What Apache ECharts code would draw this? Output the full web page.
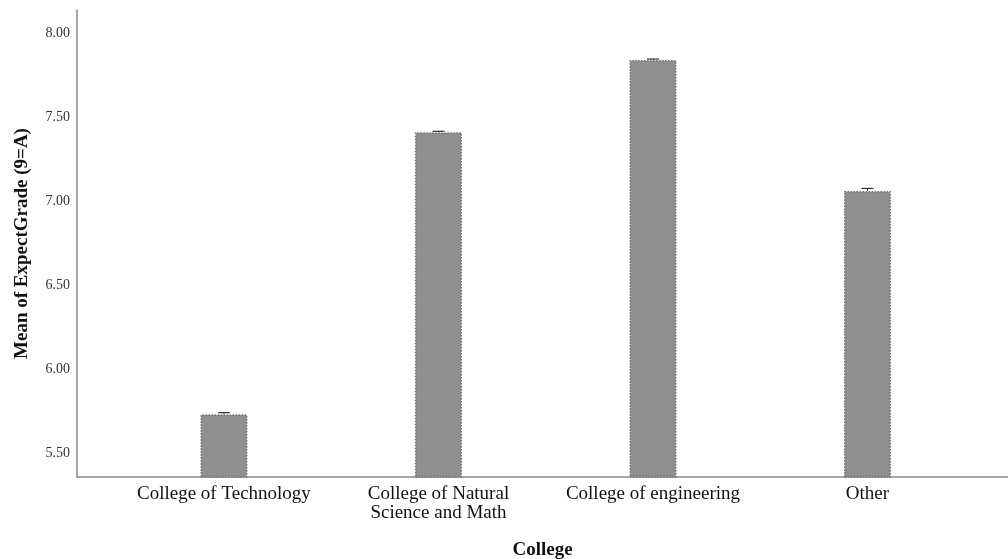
<!DOCTYPE html>
<html>
<head>
<meta charset="utf-8">
<script src="https://cdn.jsdelivr.net/npm/echarts@6/dist/echarts.min.js"></script>
<style>
  html, body { margin: 0; padding: 0; background: #fff; }
  #chart { width: 1008px; height: 559px; }
</style>
</head>
<body>
<div id="chart"></div>
<script>
const colleges = ["College of Technology", "College of Natural\nScience and Math", "College of engineering", "Other"];
const meanGrade = [5.73, 7.41, 7.84, 7.06];
// tiny error bar upper ends seen on top of each bar
const errUpper = [5.74, 7.415, 7.845, 7.075];
const yTicks = [5.5, 6.0, 6.5, 7.0, 7.5, 8.0];

const positions = colleges.map((c, i) => i + 1);
const barData = meanGrade.map((v, i) => [positions[i], v]);
const errData = meanGrade.map((v, i) => [positions[i], v, errUpper[i]]);

const serif = "Liberation Serif";
const chart = echarts.init(document.getElementById("chart"));
chart.setOption({
  animation: false,
  grid: { left: 77, right: 0, top: 10, bottom: 82, containLabel: false, outerBoundsMode: "none" },
  xAxis: {
    type: "value",
    min: 0.315,
    max: 4.655,
    splitLine: { show: false },
    axisTick: { show: false },
    axisLine: { show: true, lineStyle: { color: "#8a8a8a", width: 1.5 } },
    axisLabel: {
      customValues: positions,
      formatter: v => colleges[Math.round(v) - 1] || "",
      color: "#111",
      fontFamily: serif,
      fontSize: 19,
      lineHeight: 19,
      margin: 8
    },
    name: "College",
    nameLocation: "middle",
    nameGap: 64,
    nameTextStyle: { fontFamily: serif, fontWeight: "bold", fontSize: 19, color: "#111" }
  },
  yAxis: {
    type: "value",
    min: 5.357,
    max: 8.137,
    splitLine: { show: false },
    axisTick: { show: false },
    axisLine: { show: true, lineStyle: { color: "#8a8a8a", width: 1.5 } },
    axisLabel: {
      customValues: yTicks,
      formatter: v => v.toFixed(2),
      color: "#333",
      fontFamily: serif,
      fontSize: 14,
      margin: 7
    },
    name: "Mean of ExpectGrade (9=A)",
    nameLocation: "middle",
    nameGap: 45,
    nameTextStyle: { fontFamily: serif, fontWeight: "bold", fontSize: 19, color: "#111" }
  },
  series: [{
    type: "bar",
    data: barData,
    barWidth: 47,
    itemStyle: {
      color: "#8f8f8f",
      borderColor: "#727272",
      borderWidth: 1.5,
      borderType: "dotted"
    }
  }, {
    type: "custom",
    data: errData,
    renderItem: (params, api) => {
      const x = api.value(0);
      const top = api.coord([x, api.value(2)]);
      const base = api.coord([x, api.value(1)]);
      return {
        type: "group",
        children: [
          { type: "line", shape: { x1: top[0], y1: base[1], x2: top[0], y2: top[1] }, style: { stroke: "#333", lineWidth: 1 } },
          { type: "line", shape: { x1: top[0] - 6, y1: top[1], x2: top[0] + 6, y2: top[1] }, style: { stroke: "#333", lineWidth: 1.2 } }
        ]
      };
    }
  }]
});
</script>
</body>
</html>
